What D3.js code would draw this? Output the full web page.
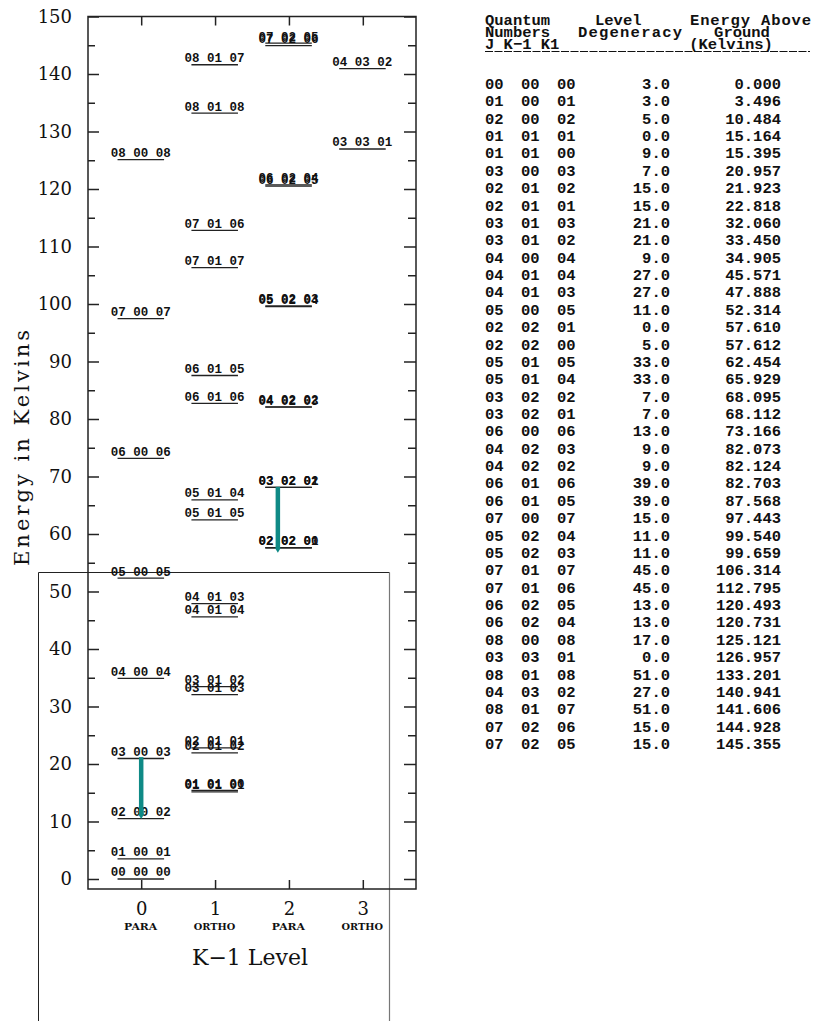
<!DOCTYPE html>
<html>
<head>
<meta charset="utf-8">
<script src="https://cdn.jsdelivr.net/npm/d3@7"></script>
<style>
  body { margin: 0; background: #fff; }
  svg { display: block; }
</style>
</head>
<body>
<div id="chart"></div>
<script>
// rotational levels of water, in the order of the printed table
const levelJ   = [0, 1, 2, 1, 1, 3, 2, 2, 3, 3, 4, 4, 4, 5, 2, 2, 5, 5, 3, 3, 6, 4, 4, 6, 6, 7, 5, 5, 7, 7, 6, 6, 8, 3, 8, 4, 8, 7, 7];
const levelKm1 = [0, 0, 0, 1, 1, 0, 1, 1, 1, 1, 0, 1, 1, 0, 2, 2, 1, 1, 2, 2, 0, 2, 2, 1, 1, 0, 2, 2, 1, 1, 2, 2, 0, 3, 1, 3, 1, 2, 2];
const levelK1  = [0, 1, 2, 1, 0, 3, 2, 1, 3, 2, 4, 4, 3, 5, 1, 0, 5, 4, 2, 1, 6, 3, 2, 6, 5, 7, 4, 3, 7, 6, 5, 4, 8, 1, 8, 2, 7, 6, 5];
const levelDeg = ["3.0", "3.0", "5.0", "0.0", "9.0", "7.0", "15.0", "15.0", "21.0", "21.0", "9.0", "27.0", "27.0", "11.0",
                  "0.0", "5.0", "33.0", "33.0", "7.0", "7.0", "13.0", "9.0", "9.0", "39.0", "39.0", "15.0", "11.0", "11.0",
                  "45.0", "45.0", "13.0", "13.0", "17.0", "0.0", "51.0", "27.0", "51.0", "15.0", "15.0"];
const levelEnergy = [0.000, 3.496, 10.484, 15.164, 15.395, 20.957, 21.923, 22.818, 32.060, 33.450, 34.905, 45.571, 47.888,
                     52.314, 57.610, 57.612, 62.454, 65.929, 68.095, 68.112, 73.166, 82.073, 82.124, 82.703, 87.568,
                     97.443, 99.540, 99.659, 106.314, 112.795, 120.493, 120.731, 125.121, 126.957, 133.201, 140.941,
                     141.606, 144.928, 145.355];

const kLevels = [0, 1, 2, 3];
const kNames = ["PARA", "ORTHO", "PARA", "ORTHO"];
const yMajor = d3.range(0, 151, 10);
const yMinor = d3.range(5, 150, 10);

// the two transitions drawn as arrows: column position, upper and lower energy
const arrowK = [0, 1.85];
const arrowFrom = [21.2, 68.2];
const arrowTo = [10.6, 56.9];

const W = 813, H = 1021;
const svg = d3.select("#chart").append("svg")
    .attr("width", W).attr("height", H);
svg.append("rect").attr("width", W).attr("height", H).attr("fill", "#fff");

const plot = { left: 88, right: 416, top: 16.5, bottom: 889 };

const x = d3.scaleLinear().domain([-0.72, 3.72]).range([plot.left, plot.right]);
const y = d3.scaleLinear().domain([-1.74, 150]).range([plot.bottom, plot.top]);

const serif = "'DejaVu Serif', serif";
const mono = "'Liberation Mono', 'Courier New', monospace";

// stray box from the scan, behind everything
svg.append("path")
    .attr("d", `M38.5,${H} V572.5 H389.5`)
    .attr("fill", "none").attr("stroke", "#222").attr("stroke-width", 1);
svg.append("line")
    .attr("x1", 389.5).attr("x2", 389.5).attr("y1", 572.5).attr("y2", H)
    .attr("stroke", "#777").attr("stroke-width", 1.2);

// frame + inward ticks on four sides
svg.append("rect")
    .attr("x", plot.left).attr("y", plot.top)
    .attr("width", plot.right - plot.left).attr("height", plot.bottom - plot.top)
    .attr("fill", "none").attr("stroke", "#222").attr("stroke-width", 1.5);

function tickAxis(axis, tx, ty) {
    const g = svg.append("g").attr("transform", `translate(${tx},${ty})`).call(axis);
    g.select(".domain").remove();
    g.selectAll("line").attr("stroke", "#222").attr("stroke-width", 1.5);
    return g;
}
tickAxis(d3.axisRight(y).tickValues(yMajor).tickSize(11).tickFormat(""), plot.left, 0);
tickAxis(d3.axisRight(y).tickValues(yMinor).tickSize(7).tickFormat(""), plot.left, 0);
tickAxis(d3.axisLeft(y).tickValues(yMajor).tickSize(12).tickFormat(""), plot.right, 0);
tickAxis(d3.axisLeft(y).tickValues(yMinor).tickSize(8).tickFormat(""), plot.right, 0);
tickAxis(d3.axisBottom(x).tickValues(kLevels).tickSize(9).tickFormat(""), 0, plot.top);
tickAxis(d3.axisTop(x).tickValues(kLevels).tickSize(9).tickFormat(""), 0, plot.bottom);

// y tick labels
const yLab = svg.append("g").attr("transform", `translate(${plot.left},0)`)
    .call(d3.axisLeft(y).tickValues(yMajor).tickSize(0).tickPadding(16).tickFormat(d3.format("d")));
yLab.select(".domain").remove();
yLab.selectAll("text")
    .attr("font-family", serif).attr("font-size", 18).attr("fill", "#111");

// x tick labels with spin names
const xLab = svg.append("g").attr("transform", `translate(0,${plot.bottom})`)
    .call(d3.axisBottom(x).tickValues(kLevels).tickSize(0).tickPadding(13).tickFormat(d3.format("d")));
xLab.select(".domain").remove();
xLab.selectAll("text")
    .attr("font-family", serif).attr("font-size", 18).attr("fill", "#111");

svg.append("g").selectAll("text")
    .data(kLevels)
    .join("text")
    .attr("x", d => x(d) - 0.5)
    .attr("y", 930)
    .attr("text-anchor", "middle")
    .attr("font-family", serif)
    .attr("font-size", 9)
    .attr("font-weight", "bold")
    .attr("textLength", (d, i) => kNames[i].length * 8.3)
    .attr("lengthAdjust", "spacingAndGlyphs")
    .attr("fill", "#111")
    .text((d, i) => kNames[i]);

svg.append("text")
    .attr("x", 250).attr("y", 965)
    .attr("text-anchor", "middle")
    .attr("font-family", serif).attr("font-size", 22).attr("fill", "#111")
    .text("K\u22121  Level");

svg.append("text")
    .attr("transform", "translate(29,448) rotate(-90)")
    .attr("text-anchor", "middle")
    .attr("font-family", serif).attr("font-size", 21).attr("fill", "#111")
    .attr("textLength", 236).attr("lengthAdjust", "spacing")
    .text("Energy in Kelvins");

// energy levels
const pad = n => String(n).padStart(2, "0");
const levels = levelEnergy.map((e, i) => ({
    e, k: levelKm1[i],
    label: `${pad(levelJ[i])} ${pad(levelKm1[i])} ${pad(levelK1[i])}`
}));

const lv = svg.append("g");
lv.selectAll("line")
    .data(levels)
    .join("line")
    .attr("x1", d => x(d.k - 0.32))
    .attr("x2", d => x(d.k + 0.31))
    .attr("y1", d => y(d.e))
    .attr("y2", d => y(d.e))
    .attr("stroke", "#222")
    .attr("stroke-width", 1.3);

lv.selectAll("text")
    .data(levels)
    .join("text")
    .attr("x", d => x(d.k) - 0.5)
    .attr("y", d => y(d.e) - 2.5)
    .attr("text-anchor", "middle")
    .attr("font-family", mono)
    .attr("font-size", 12.5)
    .attr("font-weight", "bold")
    .attr("fill", "#111")
    .text(d => d.label);

// transition arrows
const teal = "#0f8a86";
arrowK.forEach((k, i) => {
    const ax = x(k), y0 = y(arrowFrom[i]), y1 = y(arrowTo[i]);
    svg.append("line")
        .attr("x1", ax).attr("x2", ax)
        .attr("y1", y0).attr("y2", y1 - 3)
        .attr("stroke", teal).attr("stroke-width", 4.5);
    svg.append("path")
        .attr("d", `M${ax - 3},${y1 - 4} L${ax + 3},${y1 - 4} L${ax},${y1 + 1} Z`)
        .attr("fill", teal);
});

// level table
const table = svg.append("g")
    .attr("font-family", mono)
    .attr("font-size", 15.5)
    .attr("font-weight", "bold")
    .attr("fill", "#111")
    .attr("xml:space", "preserve");

// text, x, anchor, baseline, forced width (0 = natural)
const head = [
    ["Quantum", 485, "start", 25, 0], ["Level", 595, "start", 25, 0], ["Energy Above", 690, "start", 25, 121],
    ["Numbers", 485, "start", 37, 0], ["Degeneracy", 578, "start", 37, 104], ["Ground", 742, "middle", 37, 0],
    ["J K\u22121 K1", 485, "start", 49, 0], ["(Kelvins)", 731, "middle", 49, 0]
];
table.selectAll("text.head")
    .data(head)
    .join("text")
    .attr("class", "head")
    .attr("x", d => d[1]).attr("y", d => d[3])
    .attr("text-anchor", d => d[2])
    .attr("textLength", d => d[4] || null)
    .attr("lengthAdjust", "spacing")
    .text(d => d[0]);

// the typed underscores under the header
table.append("line")
    .attr("x1", 485).attr("x2", 810).attr("y1", 51.5).attr("y2", 51.5)
    .attr("stroke", "#111").attr("stroke-width", 1.2)
    .attr("stroke-dasharray", "8,1.5");

const rowY = d3.scaleLinear().domain([0, levelEnergy.length - 1]).range([89, 749]);
const rows = table.selectAll("g.row")
    .data(levelEnergy.map((e, i) => i))
    .join("g")
    .attr("class", "row")
    .attr("transform", i => `translate(0,${rowY(i)})`);

rows.append("text").attr("x", 485).text(i => pad(levelJ[i]));
rows.append("text").attr("x", 521).text(i => pad(levelKm1[i]));
rows.append("text").attr("x", 557).text(i => pad(levelK1[i]));
rows.append("text").attr("x", 670).attr("text-anchor", "end").text(i => levelDeg[i]);
rows.append("text").attr("x", 781).attr("text-anchor", "end").text(i => levelEnergy[i].toFixed(3));
</script>
</body>
</html>
